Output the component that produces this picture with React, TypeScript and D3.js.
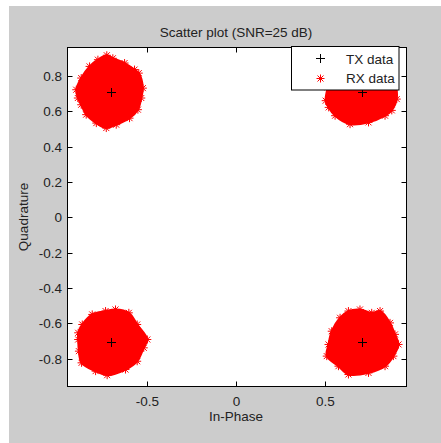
import React from "react";
import * as d3 from "d3";

// Ideal QPSK constellation points (transmitted symbols)
const txI = [-0.7071, 0.7071, -0.7071, 0.7071];
const txQ = [0.7071, 0.7071, -0.7071, -0.7071];

// Outermost received samples around each symbol (I, Q), traced clockwise
const rxTopLeft: [number, number][] = [
  [-0.728, 0.917], [-0.694, 0.9], [-0.628, 0.873], [-0.572, 0.836], [-0.548, 0.816],
  [-0.525, 0.731], [-0.534, 0.675], [-0.553, 0.609], [-0.6, 0.561], [-0.675, 0.524],
  [-0.731, 0.505], [-0.787, 0.533], [-0.844, 0.581], [-0.872, 0.637], [-0.891, 0.675],
  [-0.9, 0.722], [-0.872, 0.788], [-0.825, 0.854], [-0.778, 0.892],
];
const rxTopRight: [number, number][] = [
  [0.707, 0.9], [0.791, 0.883], [0.853, 0.832], [0.893, 0.764], [0.904, 0.669],
  [0.876, 0.605], [0.838, 0.575], [0.745, 0.537], [0.641, 0.527], [0.557, 0.575],
  [0.521, 0.622], [0.504, 0.66], [0.516, 0.735], [0.549, 0.82], [0.623, 0.877],
];
const rxBottomLeft: [number, number][] = [
  [-0.735, -0.531], [-0.679, -0.522], [-0.604, -0.541], [-0.557, -0.607], [-0.5, -0.692],
  [-0.52, -0.739], [-0.557, -0.815], [-0.623, -0.862], [-0.726, -0.894], [-0.791, -0.871],
  [-0.87, -0.824], [-0.885, -0.758], [-0.889, -0.692], [-0.889, -0.654], [-0.866, -0.607],
  [-0.81, -0.55],
];
const rxBottomRight: [number, number][] = [
  [0.632, -0.531], [0.697, -0.522], [0.763, -0.541], [0.81, -0.531], [0.866, -0.598],
  [0.894, -0.663], [0.914, -0.72], [0.885, -0.786], [0.838, -0.843], [0.745, -0.881],
  [0.632, -0.89], [0.576, -0.843], [0.51, -0.786], [0.52, -0.72], [0.538, -0.645],
  [0.585, -0.569],
];
const rxClusters = [rxTopLeft, rxTopRight, rxBottomLeft, rxBottomRight];

const xTicks = [-0.5, 0, 0.5];
const yTicks = [0.8, 0.6, 0.4, 0.2, 0, -0.2, -0.4, -0.6, -0.8];
const xDomain = [-0.952, 0.956];
const yDomain = [-0.958, 0.961];

const W = 441;
const H = 443;
const box = { left: 67, right: 406, top: 47.5, bottom: 386.5 };
const FONT = "'Liberation Sans', Arial, Helvetica, sans-serif";
const TEXT = "#222222";
const FS = 13.5;

const starPath = "M-4,0H4M0,-4V4M-3,-3L3,3M-3,3L3,-3";
const plusPath = "M-4.5,0H4.5M0,-4.5V4.5";

export default function App() {
  const x = d3.scaleLinear().domain(xDomain).range([box.left, box.right]);
  const y = d3.scaleLinear().domain(yDomain).range([box.bottom, box.top]);
  const outline = d3
    .line<[number, number]>()
    .x((d) => x(d[0]))
    .y((d) => y(d[1]))
    .curve(d3.curveCatmullRomClosed);

  const L = { x: 291.5, y: 46.5, w: 107.5, h: 43.5 };
  const tick = 5;
  const bx = Math.round(box.left) + 0.5;
  const bxr = Math.round(box.right) + 0.5;
  const byt = Math.floor(box.top) + 0.5;
  const byb = Math.floor(box.bottom) + 0.5;

  return (
    <svg
      width={W}
      height={H}
      style={{ position: "absolute", left: 0, top: 0, display: "block" }}
      fontFamily={FONT}
    >
      <rect x={0} y={0} width={W} height={H} fill="#ffffff" />
      <rect x={9} y={6} width={W - 9} height={H - 6} fill="#cccccc" />
      <rect x={bx} y={byt} width={bxr - bx} height={byb - byt} fill="#ffffff" />

      <defs>
        <clipPath id="plotArea">
          <rect x={bx} y={byt} width={bxr - bx} height={byb - byt} />
        </clipPath>
      </defs>

      <g clipPath="url(#plotArea)">
        {rxClusters.map((pts, i) => (
          <g key={i}>
            <path d={outline(pts) ?? ""} fill="#ff0000" stroke="#ff0000" strokeWidth={2} strokeLinejoin="round" />
            {pts.map((p, j) => (
              <path
                key={j}
                d={starPath}
                transform={`translate(${x(p[0])},${y(p[1])})`}
                stroke="#ff0000"
                strokeWidth={1}
                fill="none"
              />
            ))}
          </g>
        ))}
        {txI.map((v, i) => (
          <path
            key={i}
            d={plusPath}
            transform={`translate(${Math.round(x(v)) + 0.5},${Math.round(y(txQ[i])) + 0.5})`}
            stroke="#000"
            strokeWidth={1}
            fill="none"
          />
        ))}
      </g>

      {/* axes box with inward ticks on all four sides */}
      <rect x={bx} y={byt} width={bxr - bx} height={byb - byt} fill="none" stroke="#000" strokeWidth={1} />
      {xTicks.map((t) => {
        const px = Math.round(x(t)) + 0.5;
        return (
          <g key={t}>
            <line x1={px} x2={px} y1={byb} y2={byb - tick} stroke="#000" />
            <line x1={px} x2={px} y1={byt} y2={byt + tick} stroke="#000" />
            <text x={px} y={406} textAnchor="middle" fontSize={FS} fill={TEXT}>
              {t}
            </text>
          </g>
        );
      })}
      {yTicks.map((t) => {
        const py = Math.round(y(t)) + 0.5;
        return (
          <g key={t}>
            <line x1={bx} x2={bx + tick} y1={py} y2={py} stroke="#000" />
            <line x1={bxr} x2={bxr - tick} y1={py} y2={py} stroke="#000" />
            <text x={62} y={py + 4.5} textAnchor="end" fontSize={FS} fill={TEXT}>
              {t}
            </text>
          </g>
        );
      })}

      <text x={236} y={37} textAnchor="middle" fontSize={FS} fill={TEXT}>
        Scatter plot (SNR=25 dB)
      </text>
      <text x={236} y={421} textAnchor="middle" fontSize={FS} fill={TEXT}>
        In-Phase
      </text>
      <text
        transform={`translate(28,${(box.top + box.bottom) / 2}) rotate(-90)`}
        textAnchor="middle"
        fontSize={FS}
        fill={TEXT}
      >
        Quadrature
      </text>

      {/* legend */}
      <rect x={L.x} y={L.y} width={L.w} height={L.h} fill="#ffffff" stroke="#000" strokeWidth={1} />
      <path d={plusPath} transform="translate(320.5,58.5)" stroke="#000" fill="none" />
      <path d={starPath} transform="translate(320.5,78.5)" stroke="#ff0000" fill="none" />
      <text x={346} y={63.5} fontSize={FS} fill={TEXT}>
        TX data
      </text>
      <text x={346} y={83} fontSize={FS} fill={TEXT}>
        RX data
      </text>
    </svg>
  );
}
